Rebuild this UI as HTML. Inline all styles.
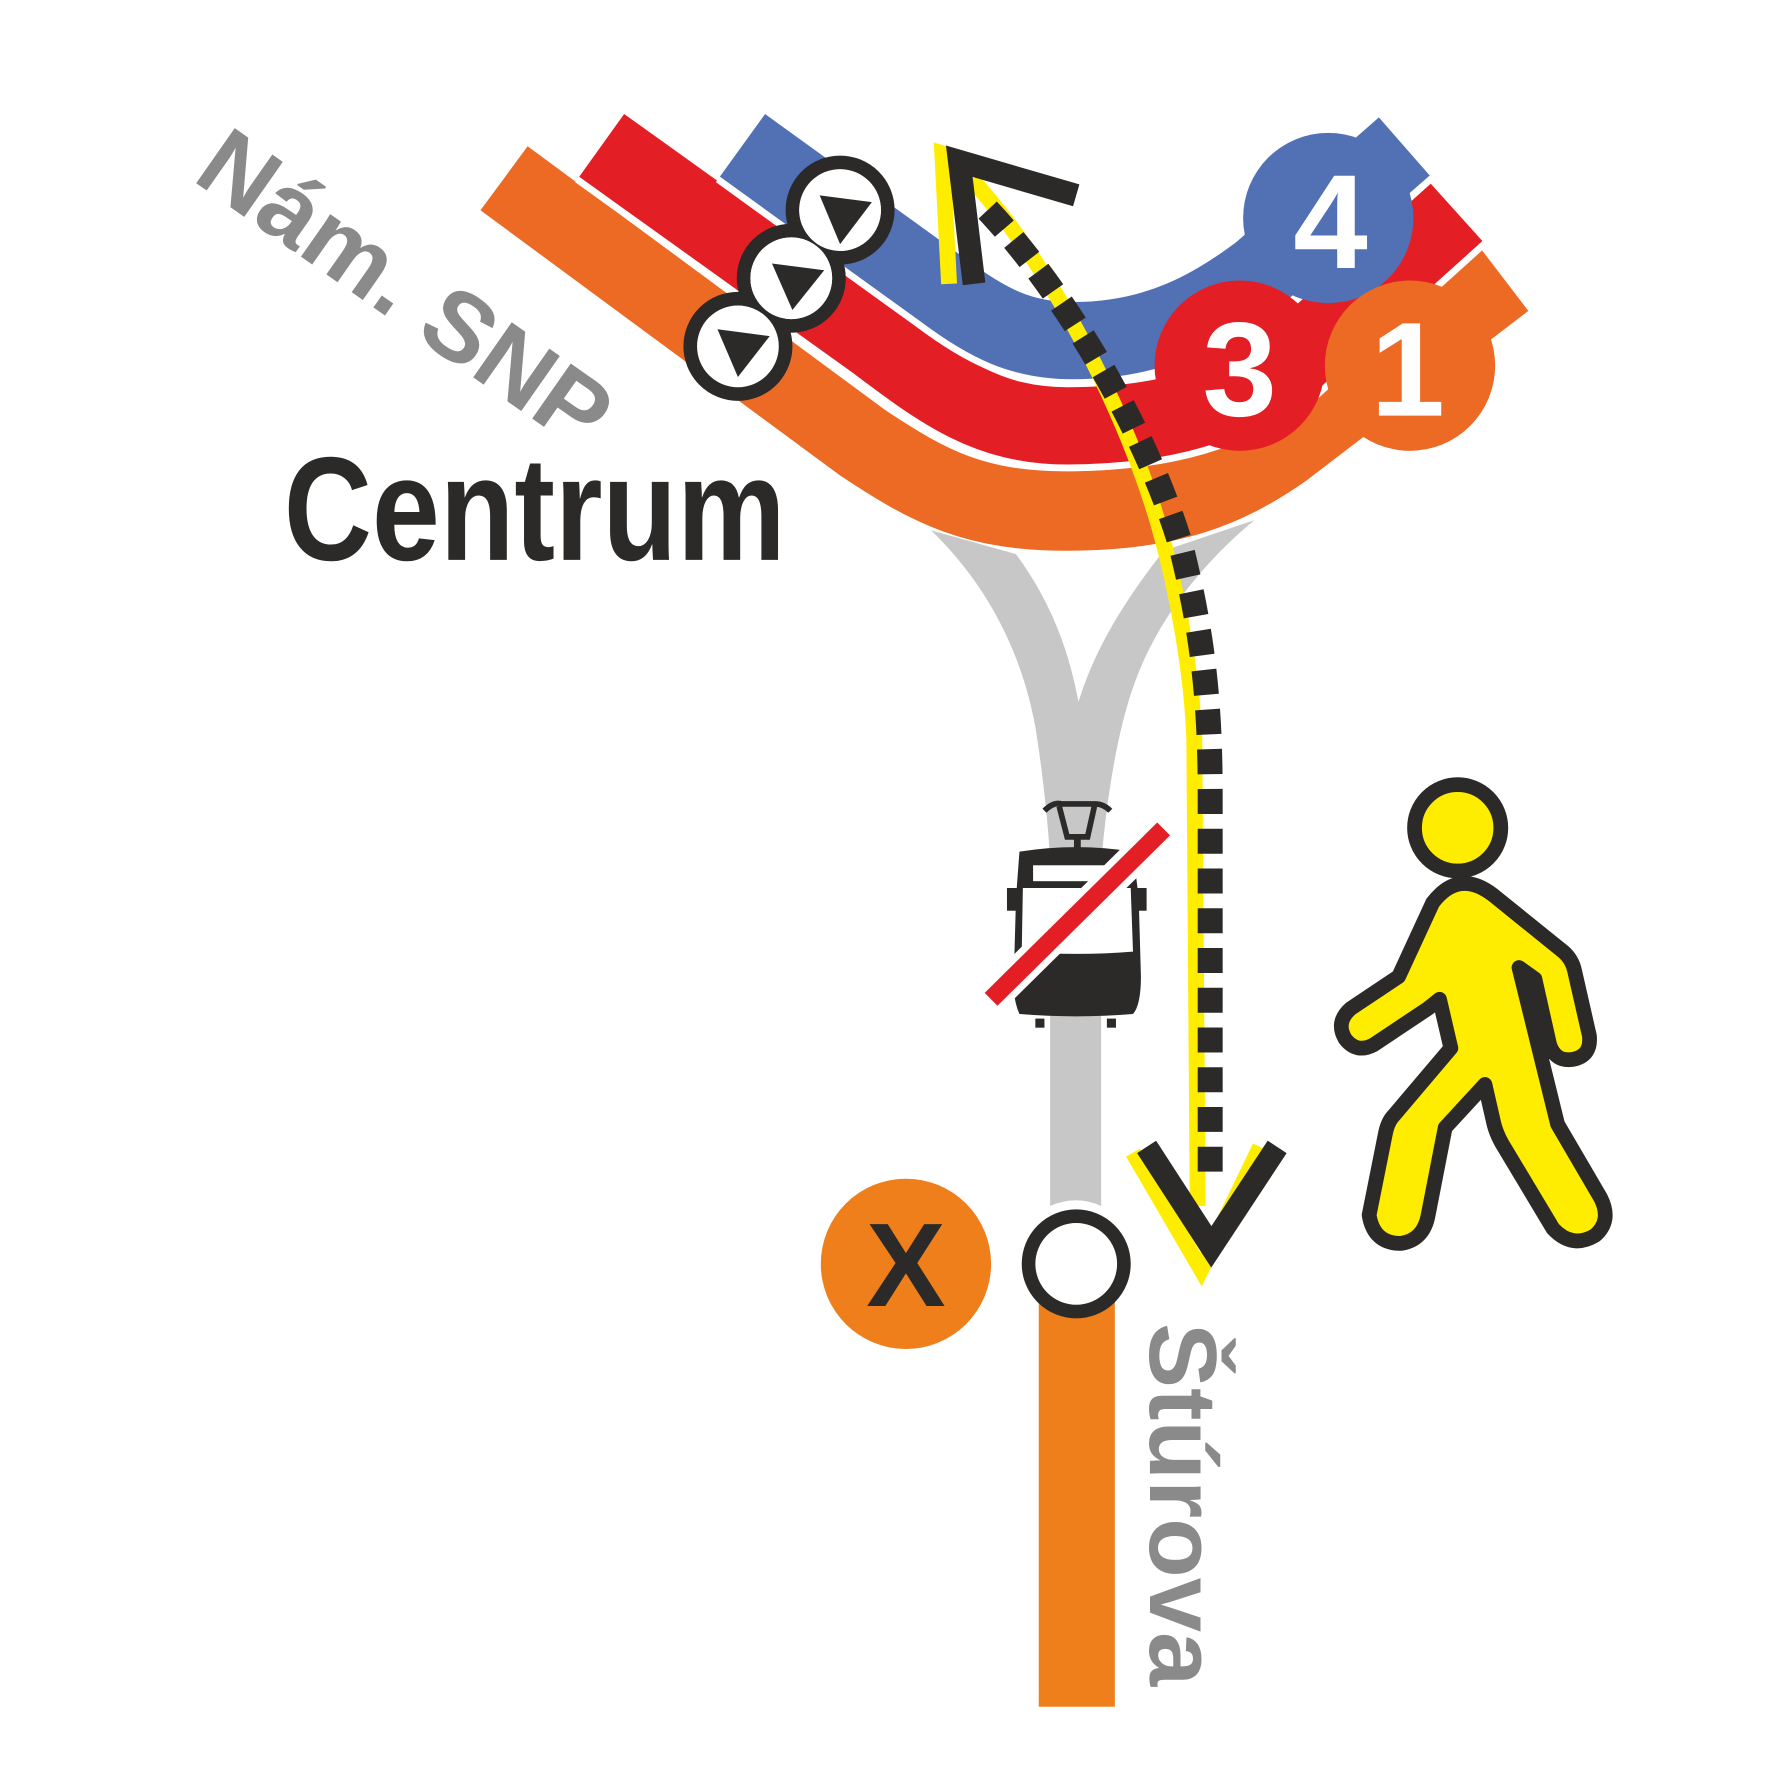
<!DOCTYPE html>
<html><head><meta charset="utf-8"><style>html,body{margin:0;padding:0;background:#fff}svg{display:block}</style></head>
<body>
<svg width="1771" height="1776" viewBox="0 0 1560 1564" preserveAspectRatio="none" xmlns="http://www.w3.org/2000/svg">
<rect width="1560" height="1564" fill="#fff"/>
<path d="M820,467 C 870,515 900,575 912,640 C 920,690 925,745 925,760 L925,1062 Q948,1052 970,1062 L970,760 C 975,700 985,640 1000,600 C 1020,545 1060,495 1105,458 L1025,485 C 990,530 965,570 950,618 C 940,565 922,525 895,488 Z" fill="#c6c7c6"/>
<rect x="915" y="1145" width="67" height="358" fill="#ee7f1a"/>
<g fill="none" stroke-linecap="butt">
<path d="M444,157 L760,390 C 820,430 860,450 940,450 C 1030,450 1080,430 1130,395 L1325,246" stroke="#ec6a23" stroke-width="70"/>
<path d="M530,128 L770,300 C 830,345 870,375 940,375 C 1030,375 1080,355 1130,325 L1283,187" stroke="#fff" stroke-width="80"/>
<path d="M530,128 L770,300 C 830,345 870,375 940,375 C 1030,375 1080,355 1130,325 L1283,187" stroke="#e31e24" stroke-width="68"/>
<path d="M654,128 L830,255 C 870,285 900,300 945,300 C 1020,300 1070,270 1110,240 L1237,129" stroke="#fff" stroke-width="80"/>
<path d="M654,128 L830,255 C 870,285 900,300 945,300 C 1020,300 1070,270 1110,240 L1237,129" stroke="#5271b4" stroke-width="68"/>
</g>
<circle cx="1170" cy="192" r="75" fill="#5271b4"/>
<circle cx="1092" cy="322" r="75" fill="#e31e24"/>
<circle cx="1242" cy="322" r="75" fill="#ec6a23"/>
<g font-family="Liberation Sans, sans-serif" font-weight="bold" font-size="118" fill="#fff" text-anchor="middle">
<text x="1172" y="236">4</text><text x="1092" y="366">3</text><text x="1240" y="366">1</text>
</g>
<path d="M856,158 C 930,240 990,360 1020,460 C 1040,530 1050,600 1052,650 L1055,1062" fill="none" stroke="#ffed00" stroke-width="14"/>
<path d="M870,185 C 940,260 1010,380 1040,480 C 1060,560 1066,620 1066,700 L1066,1035" fill="none" stroke="#2b2a29" stroke-width="22" stroke-dasharray="22,13"/>
<polyline points="836,250 830,135 938,168" fill="none" stroke="#ffed00" stroke-width="14"/>
<polyline points="858,250 845,142 948,172" fill="none" stroke="#2b2a29" stroke-width="20"/>
<polyline points="998,1015 1058,1118 1110,1010" fill="none" stroke="#ffed00" stroke-width="14"/>
<polyline points="1010,1010 1067,1098 1125,1010" fill="none" stroke="#2b2a29" stroke-width="20"/>
<g stroke="#2b2a29" stroke-width="12" fill="#fff">
<circle cx="740" cy="185" r="42"/><circle cx="697" cy="245" r="42"/><circle cx="650" cy="305" r="42"/>
</g>
<g fill="#fff"><circle cx="740" cy="185" r="36"/><circle cx="697" cy="245" r="36"/></g>
<g fill="#2b2a29">
<polygon points="722,172 768,178 740,215"/><polygon points="680,232 726,238 698,273"/><polygon points="632,290 678,296 650,332"/>
</g>
<circle cx="798" cy="1113" r="75" fill="#ee7f1a"/>
<text x="798" y="1150" font-family="Liberation Sans, sans-serif" font-weight="bold" font-size="105" fill="#2b2a29" text-anchor="middle">X</text>
<circle cx="948" cy="1113" r="42" fill="#fff" stroke="#2b2a29" stroke-width="12"/>
<g fill="#2b2a29" stroke="#2b2a29">
<path d="M920,714 Q928,706 935,708 L965,708 Q972,708 978,714" fill="none" stroke-width="5"/>
<path d="M933,710 L940,737 L958,737 L964,710" fill="none" stroke-width="5"/>
<rect x="946" y="737" width="6" height="10" stroke="none"/>
<path d="M898,750 Q948,742 998,750 L1003,790 L1005,860 Q1005,885 998,893 Q948,897 898,893 Q892,880 893,860 L895,790 Z" stroke="none"/>
<rect x="887" y="782" width="10" height="20" stroke="none"/><rect x="1000" y="782" width="10" height="20" stroke="none"/>
<rect x="912" y="897" width="8" height="8" stroke="none"/><rect x="975" y="897" width="8" height="8" stroke="none"/>
</g>
<rect x="910" y="762" width="78" height="14" fill="#fff"/>
<path d="M901,782 L996,782 L998,838 Q948,842 900,838 Z" fill="#fff"/>
<line x1="873" y1="880" x2="1025" y2="730" stroke="#fff" stroke-width="28"/>
<line x1="873" y1="880" x2="1025" y2="730" stroke="#e31e24" stroke-width="16"/>
<g fill="#ffed00" stroke="#2b2a29" stroke-width="13" stroke-linejoin="round">
<circle cx="1284" cy="729" r="38"/>
<path d="M1262,795 Q1285,765 1315,788 L1377,838 Q1385,845 1387,855 L1400,912 Q1402,930 1385,933 Q1370,935 1365,920 L1352,862 L1338,852 L1372,990 L1410,1055 Q1420,1075 1405,1088 Q1385,1100 1368,1082 L1323,1007 Q1318,998 1316,990 L1308,955 L1273,993 L1258,1070 Q1254,1092 1234,1095 Q1210,1095 1206,1070 L1220,1000 Q1222,988 1228,982 L1278,923 L1268,880 L1258,888 L1210,920 Q1195,928 1185,915 Q1176,900 1190,888 L1232,860 Z"/>
</g>
<text x="250" y="493" font-family="Liberation Sans, sans-serif" font-weight="bold" font-size="130" fill="#2b2a29" textLength="442" lengthAdjust="spacingAndGlyphs">Centrum</text>
<text transform="translate(168,158) rotate(35)" font-family="Liberation Sans, sans-serif" font-weight="bold" font-size="86" fill="#8a8a8a" textLength="420" lengthAdjust="spacingAndGlyphs">Nám. SNP</text>
<text transform="translate(1013,1165) rotate(90)" font-family="Liberation Sans, sans-serif" font-weight="bold" font-size="84" fill="#8a8a8a" textLength="320" lengthAdjust="spacingAndGlyphs">Štúrova</text>
</svg>
</body></html>
